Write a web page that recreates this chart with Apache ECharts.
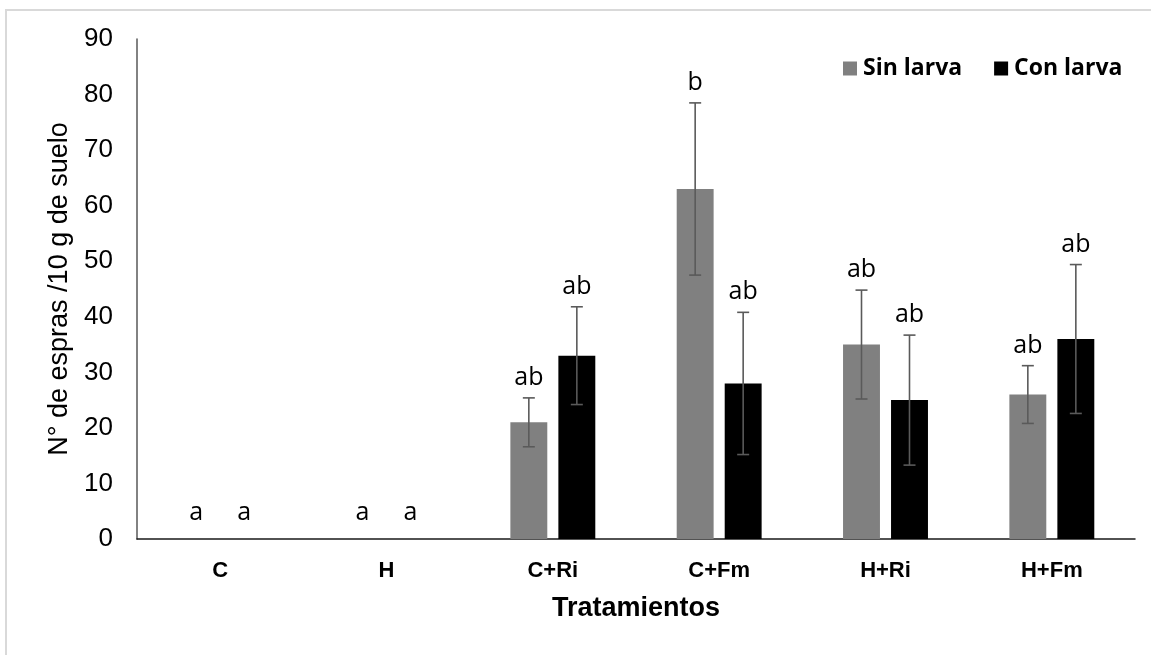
<!DOCTYPE html>
<html>
<head>
<meta charset="utf-8">
<script src="https://cdn.jsdelivr.net/npm/echarts@6/dist/echarts.min.js"></script>
<style>
  html, body { margin: 0; padding: 0; background: #ffffff; }
  #chart { width: 1151px; height: 655px; }
</style>
</head>
<body>
<div id="chart"></div>
<script>
// Treatments on the category axis
const categories = ['C', 'H', 'C+Ri', 'C+Fm', 'H+Ri', 'H+Fm'];

// Mean spore counts per 10 g of soil
const sinLarva = [0, 0, 21, 63, 35, 26];
const conLarva = [0, 0, 33, 28, 25, 36];

// Error bar half-widths
const sinLarvaErr = [0, 0, 4.4, 15.5, 9.8, 5.2];
const conLarvaErr = [0, 0, 8.8, 12.8, 11.7, 13.4];

// Significance letters
const sinLarvaLetters = ['a', 'a', 'ab', 'b', 'ab', 'ab'];
const conLarvaLetters = ['a', 'a', 'ab', 'ab', 'ab', 'ab'];

// Y axis ticks
const yMin = 0, yMax = 90, yStep = 10;

const BAR_WIDTH_FRAC = 0.222;
const BAR_GAP_FRAC = 0.30;

function errorSeries(name, values, errs, letters, side) {
  return {
    type: 'custom',
    name: name + ' error',
    z: 5,
    silent: true,
    data: values.map((v, i) => [i, v, errs[i]]),
    encode: { x: 0, y: 1 },
    renderItem: function (params, api) {
      const idx = api.value(0);
      const v = api.value(1);
      const e = api.value(2);
      const base = api.coord([idx, v]);
      const bandW = api.size([1, 0])[0];
      const bw = bandW * BAR_WIDTH_FRAC;
      const x = base[0] + side * (bw * (1 + BAR_GAP_FRAC)) / 2;
      const yTop = api.coord([idx, v + e])[1];
      const yBot = api.coord([idx, v - e])[1];
      const cap = 6;
      const lineStyle = { stroke: '#5a5a5a', lineWidth: 1.6 };
      const children = [];
      if (e > 0) {
        children.push(
          { type: 'line', shape: { x1: x, y1: yTop, x2: x, y2: yBot }, style: lineStyle },
          { type: 'line', shape: { x1: x - cap, y1: yTop, x2: x + cap, y2: yTop }, style: lineStyle },
          { type: 'line', shape: { x1: x - cap, y1: yBot, x2: x + cap, y2: yBot }, style: lineStyle }
        );
      }
      children.push({
        type: 'text',
        style: {
          x: x,
          y: yTop - (e > 0 ? 20 : 26),
          text: letters[params.dataIndex],
          align: 'center',
          verticalAlign: 'middle',
          fill: '#000000',
          font: '25px "Open Sans"'
        }
      });
      return { type: 'group', children: children };
    }
  };
}

const chart = echarts.init(document.getElementById('chart'), null, { renderer: 'canvas' });

chart.setOption({
  backgroundColor: '#ffffff',
  animation: false,
  graphic: [{
    type: 'rect',
    shape: { x: 6, y: 10, width: 1300, height: 800 },
    style: { fill: 'none', stroke: '#d9d9d9', lineWidth: 2 },
    silent: true,
    z: -10
  }],
  legend: {
    left: 838,
    top: 52,
    icon: 'rect',
    itemWidth: 14,
    itemHeight: 14,
    itemGap: 32,
    data: ['Sin larva', 'Con larva'],
    textStyle: {
      fontFamily: '"Open Sans"',
      fontWeight: 'bold',
      fontSize: 23,
      color: '#000000',
      padding: [0, 0, 0, 1]
    }
  },
  grid: { left: 137, right: 16, top: 39, bottom: 116, containLabel: false },
  xAxis: {
    type: 'category',
    data: categories,
    name: 'Tratamientos',
    nameLocation: 'middle',
    nameGap: 56,
    nameTextStyle: { fontFamily: '"Liberation Sans", Arial', fontWeight: 'bold', fontSize: 27, color: '#000000' },
    axisLine: { show: true, lineStyle: { color: '#1a1a1a', width: 1.5 } },
    axisTick: { show: false },
    axisLabel: {
      margin: 21,
      fontFamily: '"Liberation Sans", Arial',
      fontWeight: 'bold',
      fontSize: 22,
      color: '#000000'
    },
    splitLine: { show: false }
  },
  yAxis: {
    type: 'value',
    min: yMin,
    max: yMax,
    interval: yStep,
    name: 'N° de espras /10 g de suelo',
    nameLocation: 'middle',
    nameGap: 64,
    nameRotate: 90,
    nameTextStyle: { fontFamily: '"Liberation Sans", Arial', fontSize: 27, color: '#000000' },
    axisLine: { show: true, lineStyle: { color: '#595959', width: 1.5 } },
    axisTick: { show: false },
    axisLabel: {
      margin: 24,
      fontFamily: '"Liberation Sans", Arial',
      fontSize: 26,
      color: '#000000'
    },
    splitLine: { show: false }
  },
  series: [
    {
      name: 'Sin larva',
      type: 'bar',
      data: sinLarva,
      barWidth: (BAR_WIDTH_FRAC * 100) + '%',
      barGap: (BAR_GAP_FRAC * 100) + '%',
      itemStyle: { color: '#808080' }
    },
    {
      name: 'Con larva',
      type: 'bar',
      data: conLarva,
      barWidth: (BAR_WIDTH_FRAC * 100) + '%',
      barGap: (BAR_GAP_FRAC * 100) + '%',
      itemStyle: { color: '#000000' }
    },
    errorSeries('Sin larva', sinLarva, sinLarvaErr, sinLarvaLetters, -1),
    errorSeries('Con larva', conLarva, conLarvaErr, conLarvaLetters, 1)
  ]
});
</script>
</body>
</html>
